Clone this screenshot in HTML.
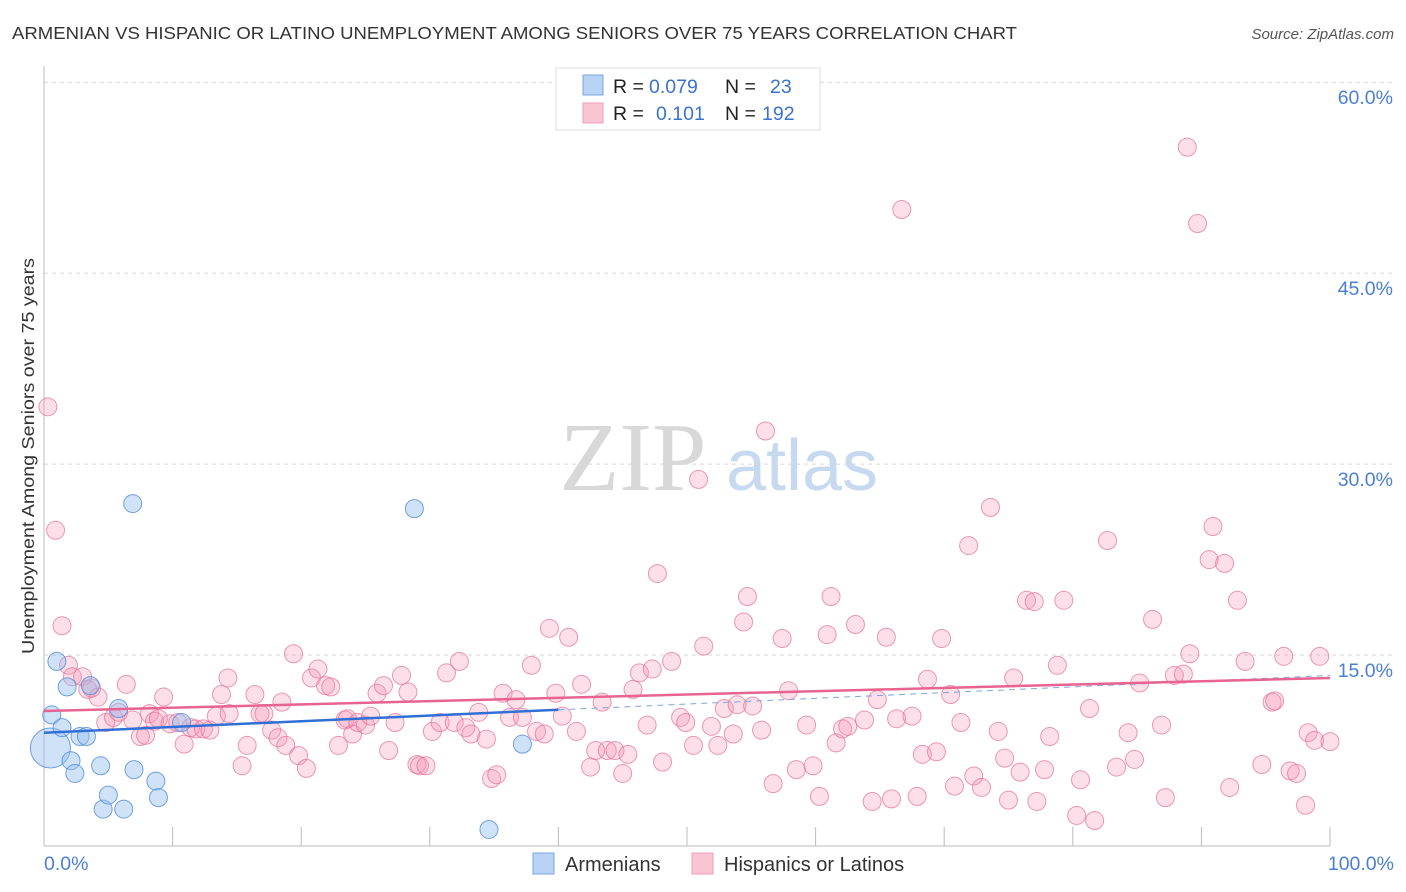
<!DOCTYPE html>
<html><head><meta charset="utf-8"><style>
body{margin:0;background:#fff;font-family:"Liberation Sans",sans-serif;}
svg{display:block}
</style></head><body>
<svg id="chart" width="1406" height="892">
<text x="12" y="39" font-size="17.5" fill="#333" textLength="1005" lengthAdjust="spacingAndGlyphs">ARMENIAN VS HISPANIC OR LATINO UNEMPLOYMENT AMONG SENIORS OVER 75 YEARS CORRELATION CHART</text>
<text x="1394" y="39" font-size="15" fill="#555" font-style="italic" text-anchor="end">Source: ZipAtlas.com</text>
<text x="34" y="456" font-size="17.5" fill="#333" text-anchor="middle" textLength="396" lengthAdjust="spacingAndGlyphs" transform="rotate(-90 34 456)">Unemployment Among Seniors over 75 years</text>
<g>
<text x="633" y="490" font-size="98" fill="#d8d8d8" font-family="Liberation Serif,serif" text-anchor="middle">ZIP</text>
<text x="802" y="490" font-size="72" fill="#c7d9ef" text-anchor="middle">atlas</text>
</g>
<g id="grid"></g>
<g id="axes"></g>
<g id="pts"></g>
<g id="trends"></g>
<g>
<rect x="556" y="68" width="264" height="62" fill="#fff" stroke="#ddd"/>
<rect x="583" y="75" width="20" height="20" fill="#b9d3f4" stroke="#7aa6e0"/>
<rect x="583" y="103" width="20" height="20" fill="#f9c5d5" stroke="#ee9cb8"/>
<text x="613" y="93" font-size="19.5" fill="#222">R = <tspan x="649" fill="#3a72d0">0.079</tspan><tspan x="725">N =</tspan><tspan x="770" fill="#3a72d0">23</tspan></text>
<text x="613" y="120" font-size="19.5" fill="#222">R = <tspan x="656" fill="#3a72d0">0.101</tspan><tspan x="725">N =</tspan><tspan x="762" fill="#3a72d0">192</tspan></text>
</g>
<g>
<rect x="533" y="853" width="21" height="21" fill="#b9d3f4" stroke="#7aa6e0"/>
<text x="565" y="871" font-size="20" fill="#333">Armenians</text>
<rect x="692" y="853" width="21" height="21" fill="#f9c5d5" stroke="#ee9cb8"/>
<text x="724" y="871" font-size="20" fill="#333">Hispanics or Latinos</text>
</g>
</svg>
<script>
const yTicks=[15,30,45,60];
const yTickLabels=["15.0%","30.0%","45.0%","60.0%"];
const xTickVals=[0,10,20,30,40,50,60,70,80,90,100];
const xEndLabels=["0.0%","100.0%"];
const blueX=[0.5,0.6,1.0,1.4,1.8,2.1,2.4,2.8,3.3,3.6,4.4,4.6,5.0,5.8,6.2,6.9,7.0,8.7,8.9,10.7,28.8,34.6,37.2];
const blueY=[7.7,10.3,14.5,9.3,12.5,6.7,5.7,8.6,8.6,12.6,6.3,2.9,4.0,10.8,2.9,26.9,6.0,5.1,3.8,9.7,26.5,1.3,8.0];
const pinkX=[0.3,0.9,1.4,1.9,2.2,3.0,3.4,3.7,4.2,4.8,5.4,5.8,6.4,6.9,7.5,7.9,8.2,8.6,8.9,9.3,9.8,10.4,10.9,11.4,11.8,12.4,12.9,13.4,13.8,14.3,14.4,15.4,15.8,16.4,16.8,17.1,17.7,18.2,18.5,18.8,19.4,19.8,20.4,20.8,21.3,21.9,22.3,22.9,23.4,23.6,24.0,24.4,25.0,25.4,25.9,26.4,26.8,27.3,27.8,28.3,29.0,29.2,29.7,30.2,30.8,31.3,31.9,32.3,32.8,33.2,33.8,34.4,34.8,35.2,35.7,36.2,36.7,37.2,37.9,38.3,38.9,39.3,39.8,40.3,40.8,41.4,41.8,42.5,42.9,43.4,43.8,44.4,45.0,45.4,45.8,46.3,46.9,47.3,47.7,48.1,48.8,49.5,49.9,50.5,50.9,51.3,51.9,52.4,52.9,53.6,53.9,54.4,54.7,55.1,55.8,56.1,56.7,57.4,57.9,58.5,59.3,59.8,60.3,60.9,61.2,61.6,62.1,62.5,63.1,63.8,64.4,64.8,65.5,65.9,66.3,66.7,67.5,67.9,68.3,68.7,69.4,69.8,70.5,70.8,71.3,71.9,72.3,72.9,73.6,74.2,74.7,75.0,75.4,75.9,76.4,77.0,77.2,77.8,78.2,78.8,79.3,80.3,80.6,81.3,81.7,82.7,83.4,84.3,84.8,85.2,86.2,86.9,87.2,87.9,88.6,88.9,89.1,89.7,90.6,90.9,91.8,92.2,92.8,93.4,94.7,95.5,95.7,96.4,96.9,97.4,98.1,98.3,98.8,99.2,100];
const pinkY=[34.5,24.8,17.3,14.2,13.3,13.3,12.3,12.4,11.7,9.7,10.1,10.5,12.7,9.9,8.6,8.7,10.4,9.8,10.0,11.7,9.6,9.7,8.0,9.3,9.2,9.2,9.1,10.2,11.9,13.2,10.4,6.3,7.9,11.9,10.4,10.4,9.1,8.5,11.3,7.9,15.1,7.1,6.1,13.2,13.9,12.6,12.5,7.9,9.9,10.0,8.8,9.7,9.5,10.2,12.0,12.6,7.5,9.7,13.4,12.1,6.4,6.3,6.3,9.0,9.7,13.6,9.7,14.5,9.3,8.8,10.5,8.4,5.3,5.6,12.0,10.1,11.5,10.1,14.2,9.0,8.8,17.1,12.0,10.2,16.4,9.0,12.7,6.2,7.5,11.3,7.5,7.5,5.7,7.2,12.3,13.6,9.5,13.9,21.4,6.6,14.5,10.1,9.7,7.9,28.8,15.7,9.4,7.9,10.8,8.8,11.1,17.6,19.6,11.0,9.1,32.6,4.9,16.3,12.2,6.0,9.5,6.3,3.9,16.6,19.6,8.1,9.2,9.4,17.4,9.9,3.5,11.5,16.4,3.7,10.0,50.0,10.2,3.9,7.2,13.1,7.4,16.3,11.9,4.7,9.7,23.6,5.5,4.6,26.6,9.0,6.9,3.6,13.2,5.8,19.3,19.2,3.5,6.0,8.6,14.2,19.3,2.4,5.2,10.8,2.0,24.0,6.2,8.9,6.8,12.8,17.8,9.5,3.8,13.4,13.5,54.9,15.1,48.9,22.5,25.1,22.2,4.6,19.3,14.5,6.4,11.3,11.4,14.9,5.9,5.7,3.2,8.9,8.3,14.9,8.2];
const blueTrend=[8.9,10.7];
const pinkTrend=[10.6,13.2];
const X0=44,X1=1330,Y0=846,PPY=12.73;
const sx=v=>X0+(X1-X0)*v/100;
const sy=v=>Y0-v*PPY;
const NS="http://www.w3.org/2000/svg";
function mk(tag,attrs,parent){const e=document.createElementNS(NS,tag);for(const k in attrs)e.setAttribute(k,attrs[k]);parent.appendChild(e);return e;}
const grid=document.getElementById('grid'),axes=document.getElementById('axes'),pts=document.getElementById('pts'),tr=document.getElementById('trends');
yTicks.forEach((t,i)=>{
 const l=mk('line',{x1:X0,x2:1394,y1:sy(t),y2:sy(t),stroke:'#d6d6d6','stroke-dasharray':'4,4'},grid);
 
 
 const tx=mk('text',{x:1393,y:sy(t)+22,'font-size':19.5,fill:'#4a7fd4','text-anchor':'end'},grid);
 tx.textContent=yTickLabels[i];
 
 
});
const ya=mk('line',{x1:X0,x2:X0,y1:66,y2:Y0,stroke:'#bbb'},axes);


const xa=mk('line',{x1:X0,x2:X1,y1:Y0,y2:Y0,stroke:'#bbb'},axes);


xTickVals.forEach(v=>{
 const t=mk('line',{x1:sx(v),x2:sx(v),y1:Y0-19,y2:Y0,stroke:'#bbb'},axes);
 
 
});
const l0=mk('text',{x:X0,y:870,'font-size':19.5,fill:'#4a7fd4'},axes);l0.textContent=xEndLabels[0];


const l1=mk('text',{x:1394,y:870,'font-size':19.5,fill:'#4a7fd4','text-anchor':'end'},axes);l1.textContent=xEndLabels[1];


pinkX.forEach((x,i)=>{
 const c=mk('circle',{cx:sx(x),cy:sy(pinkY[i]),r:9,fill:'rgba(244,150,182,0.3)',stroke:'rgba(230,110,150,0.7)','stroke-width':1},pts);
 
 
});
blueX.forEach((x,i)=>{
 const c=mk('circle',{cx:sx(x),cy:sy(blueY[i]),r:i===0?20:9,fill:'rgba(150,190,240,0.45)',stroke:'rgba(80,140,215,0.8)','stroke-width':1},pts);
 
 
});
const bSlope=(blueTrend[1]-blueTrend[0])/40;
const bd=mk('line',{x1:sx(40),y1:sy(blueTrend[1]),x2:sx(100),y2:sy(blueTrend[0]+bSlope*100),stroke:'#7aa6e0','stroke-width':1,'stroke-dasharray':'6,5'},tr);


const pl=mk('line',{x1:sx(0),y1:sy(pinkTrend[0]),x2:sx(100),y2:sy(pinkTrend[1]),stroke:'#e8638f','stroke-width':2.5},tr);


const bl=mk('line',{x1:sx(0),y1:sy(blueTrend[0]),x2:sx(40),y2:sy(blueTrend[1]),stroke:'#2f6fd6','stroke-width':2.5},tr);


</script>
</body></html>
